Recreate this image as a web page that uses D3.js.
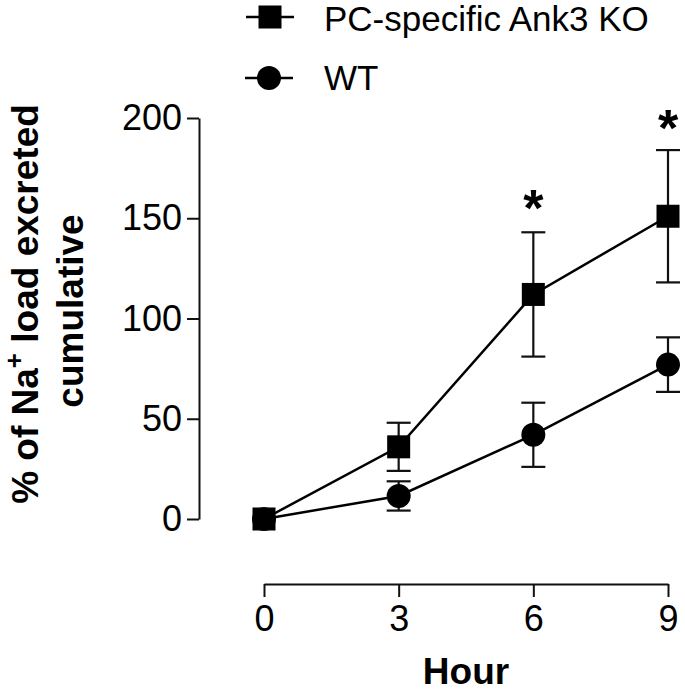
<!DOCTYPE html>
<html>
<head>
<meta charset="utf-8">
<script src="https://cdn.jsdelivr.net/npm/d3@7"></script>
<style>
  html, body { margin: 0; padding: 0; background: #fff; }
  svg { display: block; }
  text { font-family: "Liberation Sans", Arial, Helvetica, sans-serif; fill: #000; }
</style>
</head>
<body>
<script>
// ---- data ----
const hours = [0, 3, 6, 9];
const koMean = [0, 36, 112, 151];
const koErr = [0, 12, 31, 33];
const wtMean = [0, 11.5, 42, 77];
const wtErr = [0, 7.3, 16, 13.6];
const yTicks = [0, 50, 100, 150, 200];
const xTicks = [0, 3, 6, 9];
const seriesNames = ["PC-specific Ank3 KO", "WT"];
const starHours = [6, 9];
const starY = [162, 202];

const W = 685, H = 692;
const svg = d3.select("body").append("svg").attr("width", W).attr("height", H);

const x = d3.scaleLinear().domain([0, 9]).range([264, 668]);
const y = d3.scaleLinear().domain([0, 200]).range([519, 118]);

// Y axis
const yAxis = d3.axisLeft(y).tickValues(yTicks).tickSize(12).tickSizeOuter(0).tickPadding(5);
const gy = svg.append("g").attr("transform", "translate(199,0)").call(yAxis);
gy.select(".domain").attr("stroke", "#111").attr("stroke-width", 2);
gy.selectAll(".tick line").attr("stroke", "#111").attr("stroke-width", 2);
gy.selectAll(".tick text").attr("font-size", 36).attr("fill", "#000")
  .attr("font-family", "Liberation Sans, Arial, sans-serif");

// X axis
const xAxis = d3.axisBottom(x).tickValues(xTicks).tickSize(13).tickSizeOuter(0).tickPadding(8);
const gx = svg.append("g").attr("transform", "translate(0,584)").call(xAxis);
gx.select(".domain").attr("stroke", "#111").attr("stroke-width", 2);
gx.selectAll(".tick line").attr("stroke", "#111").attr("stroke-width", 2);
gx.selectAll(".tick text").attr("font-size", 36).attr("fill", "#000")
  .attr("font-family", "Liberation Sans, Arial, sans-serif");

// X title
svg.append("text").attr("x", 466).attr("y", 684).attr("text-anchor", "middle")
  .attr("font-size", 37).attr("font-weight", "bold").text("Hour");

// Y title (two lines, rotated)
const yt1 = svg.append("text").attr("transform", "translate(38,304) rotate(-90)")
  .attr("text-anchor", "middle").attr("font-size", 37).attr("font-weight", "bold");
yt1.append("tspan").text("% of Na");
yt1.append("tspan").attr("dy", -15).attr("font-size", 26).text("+");
yt1.append("tspan").attr("dy", 15).text(" load excreted");
svg.append("text").attr("transform", "translate(83,311) rotate(-90)")
  .attr("text-anchor", "middle").attr("font-size", 37).attr("font-weight", "bold").text("cumulative");

// series
function drawSeries(mean, err, shape) {
  const g = svg.append("g");
  const line = d3.line().x((d, i) => x(hours[i])).y(d => y(d));
  g.append("path").attr("d", line(mean)).attr("fill", "none").attr("stroke", "#000").attr("stroke-width", 2.5);
  hours.forEach((h, i) => {
    if (err[i] <= 0) return;
    const cx = x(h), top = y(mean[i] + err[i]), bot = y(mean[i] - err[i]);
    g.append("line").attr("x1", cx).attr("x2", cx).attr("y1", top).attr("y2", bot).attr("stroke", "#111").attr("stroke-width", 2.2);
    [top, bot].forEach(yy => g.append("line").attr("x1", cx - 12).attr("x2", cx + 12).attr("y1", yy).attr("y2", yy)
      .attr("stroke", "#111").attr("stroke-width", 2.2));
  });
  hours.forEach((h, i) => {
    if (shape === "square") {
      g.append("rect").attr("x", x(h) - 11.5).attr("y", y(mean[i]) - 11.5).attr("width", 23).attr("height", 23).attr("fill", "#000");
    } else {
      g.append("circle").attr("cx", x(h)).attr("cy", y(mean[i])).attr("r", 12).attr("fill", "#000");
    }
  });
}
drawSeries(wtMean, wtErr, "circle");
drawSeries(koMean, koErr, "square");

// stars
starHours.forEach((h, i) => {
  svg.append("text").attr("x", x(h)).attr("y", y(starY[i])).attr("text-anchor", "middle")
    .attr("font-size", 52).attr("font-weight", "bold").attr("dy", "0.62em").text("*");
});

// legend
const leg = svg.append("g");
leg.append("line").attr("x1", 246).attr("x2", 294).attr("y1", 17).attr("y2", 17).attr("stroke", "#000").attr("stroke-width", 2.5);
leg.append("rect").attr("x", 258.5).attr("y", 5.5).attr("width", 23).attr("height", 23).attr("fill", "#000");
leg.append("line").attr("x1", 245).attr("x2", 293).attr("y1", 78).attr("y2", 78).attr("stroke", "#000").attr("stroke-width", 2.5);
leg.append("circle").attr("cx", 269).attr("cy", 78).attr("r", 12).attr("fill", "#000");
leg.append("text").attr("x", 324).attr("y", 31).attr("font-size", 35).text(seriesNames[0]);
leg.append("text").attr("x", 324).attr("y", 90).attr("font-size", 35).text(seriesNames[1]);
</script>
</body>
</html>
